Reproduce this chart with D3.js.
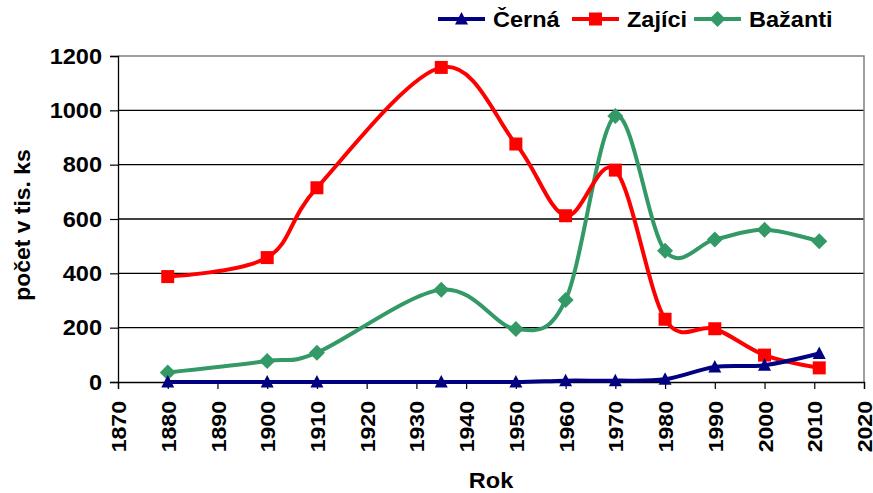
<!DOCTYPE html>
<html>
<head>
<meta charset="utf-8">
<script src="https://cdn.jsdelivr.net/npm/d3@7"></script>
<style>
  html, body { margin: 0; padding: 0; background: #fff; }
  svg text { font-family: Arial, "Liberation Sans", sans-serif; font-weight: bold; fill: #000; }
</style>
</head>
<body>
<svg id="chart" width="873" height="493"></svg>
<script>
// Years of the counts
const years = [1880, 1900, 1910, 1935, 1950, 1960, 1970, 1980, 1990, 2000, 2011];
// Counts in thousands
const cerna   = [0, 0, 0, 0, 0, 5, 5, 10, 55, 62, 105];
const zajici  = [388, 458, 715, 1158, 876, 612, 780, 231, 196, 99, 52];
const bazanti = [35, 77, 108, 340, 195, 302, 979, 483, 525, 560, 518];

const xTicks = [1870, 1880, 1890, 1900, 1910, 1920, 1930, 1940, 1950, 1960, 1970, 1980, 1990, 2000, 2010, 2020];
const yTicks = [0, 200, 400, 600, 800, 1000, 1200];

const series = [
  { name: "Černá",   values: cerna,   color: "#000080", marker: "triangle" },
  { name: "Zajíci",  values: zajici,  color: "#FF0000", marker: "square" },
  { name: "Bažanti", values: bazanti, color: "#339966", marker: "diamond" }
];

const svg = d3.select("#chart");
const plot = { left: 118, right: 864, top: 56, bottom: 382 };
const stretch = 1.07; // slightly wide lettering

const x = d3.scaleLinear().domain([1870, 2020]).range([plot.left, plot.right]);
const y = d3.scaleLinear().domain([0, 1200]).range([plot.bottom, plot.top]);

// horizontal gridlines
svg.append("g").selectAll("line")
  .data(yTicks.filter(d => d > 0 && d < 1200))
  .join("line")
  .attr("x1", plot.left).attr("x2", plot.right)
  .attr("y1", d => y(d)).attr("y2", d => y(d))
  .attr("stroke", "#000").attr("stroke-width", 1.3);

// plot area border (top and right)
svg.append("path")
  .attr("d", `M${plot.left},${y(1200)}H${plot.right}V${plot.bottom}`)
  .attr("fill", "none").attr("stroke", "#808080").attr("stroke-width", 1.5);

// y axis
const yAxis = svg.append("g")
  .attr("transform", `translate(${plot.left},0)`)
  .call(d3.axisLeft(y).tickValues(yTicks).tickSize(8).tickPadding(8).tickFormat(d3.format("d")));
yAxis.select(".domain").attr("stroke", "#000").attr("stroke-width", 1.3);
yAxis.selectAll(".tick line").attr("stroke", "#000").attr("stroke-width", 1.2);
yAxis.selectAll("text")
  .attr("font-size", 22).attr("font-family", null).attr("fill", "#000")
  .attr("x", -16 / stretch)
  .attr("transform", `scale(${stretch},1)`);

// x axis
const xAxis = svg.append("g")
  .attr("transform", `translate(0,${plot.bottom})`)
  .call(d3.axisBottom(x).tickValues(xTicks).tickSize(7).tickFormat(d3.format("d")));
xAxis.select(".domain").attr("stroke", "#000").attr("stroke-width", 1.3);
xAxis.selectAll(".tick line").attr("stroke", "#000").attr("stroke-width", 1.2);
xAxis.selectAll("text")
  .attr("font-size", 21).attr("font-family", null).attr("fill", "#000")
  .attr("text-anchor", "end")
  .attr("transform", `rotate(-90) scale(1.1,1)`)
  .attr("x", -19 / 1.1).attr("y", 0).attr("dy", "0.36em");

// axis titles
svg.append("text")
  .attr("transform", `translate(30,${(plot.top + plot.bottom) / 2 + 6}) rotate(-90) scale(1.04,1)`)
  .attr("text-anchor", "middle").attr("font-size", 22)
  .text("počet v tis. ks");
svg.append("text")
  .attr("transform", `translate(491,488) scale(${stretch},1)`)
  .attr("text-anchor", "middle").attr("font-size", 22)
  .text("Rok");

// marker shapes
function markerPath(type) {
  if (type === "square") return "M-6.5,-6.5H6.5V6.5H-6.5Z";
  if (type === "diamond") return "M0,-8L8,0L0,8L-8,0Z";
  return "M0,-7L6.5,5.5H-6.5Z";
}

const line = d3.line()
  .x((d, i) => x(years[i]))
  .y(d => y(d))
  .curve(d3.curveCardinal.tension(0));

const order = [series[2], series[1], series[0]];
order.forEach(s => {
  const g = svg.append("g");
  g.append("path")
    .attr("d", line(s.values))
    .attr("fill", "none").attr("stroke", s.color).attr("stroke-width", 4)
    .attr("stroke-linejoin", "round");
  g.selectAll("path.m")
    .data(s.values)
    .join("path").attr("class", "m")
    .attr("transform", (d, i) => `translate(${x(years[i])},${y(d)})`)
    .attr("d", markerPath(s.marker))
    .attr("fill", s.color);
});

// legend
const legendX = [438, 572, 694];
const legend = svg.append("g");
series.forEach((s, i) => {
  const lx = legendX[i], ly = 19;
  legend.append("line")
    .attr("x1", lx).attr("x2", lx + 47).attr("y1", ly).attr("y2", ly)
    .attr("stroke", s.color).attr("stroke-width", 4);
  legend.append("path")
    .attr("transform", `translate(${lx + 23.5},${ly})`)
    .attr("d", markerPath(s.marker)).attr("fill", s.color);
  legend.append("text")
    .attr("transform", `translate(${lx + 55},${ly}) scale(${stretch},1)`)
    .attr("dy", "0.36em")
    .attr("font-size", 22)
    .text(s.name);
});
</script>
</body>
</html>
